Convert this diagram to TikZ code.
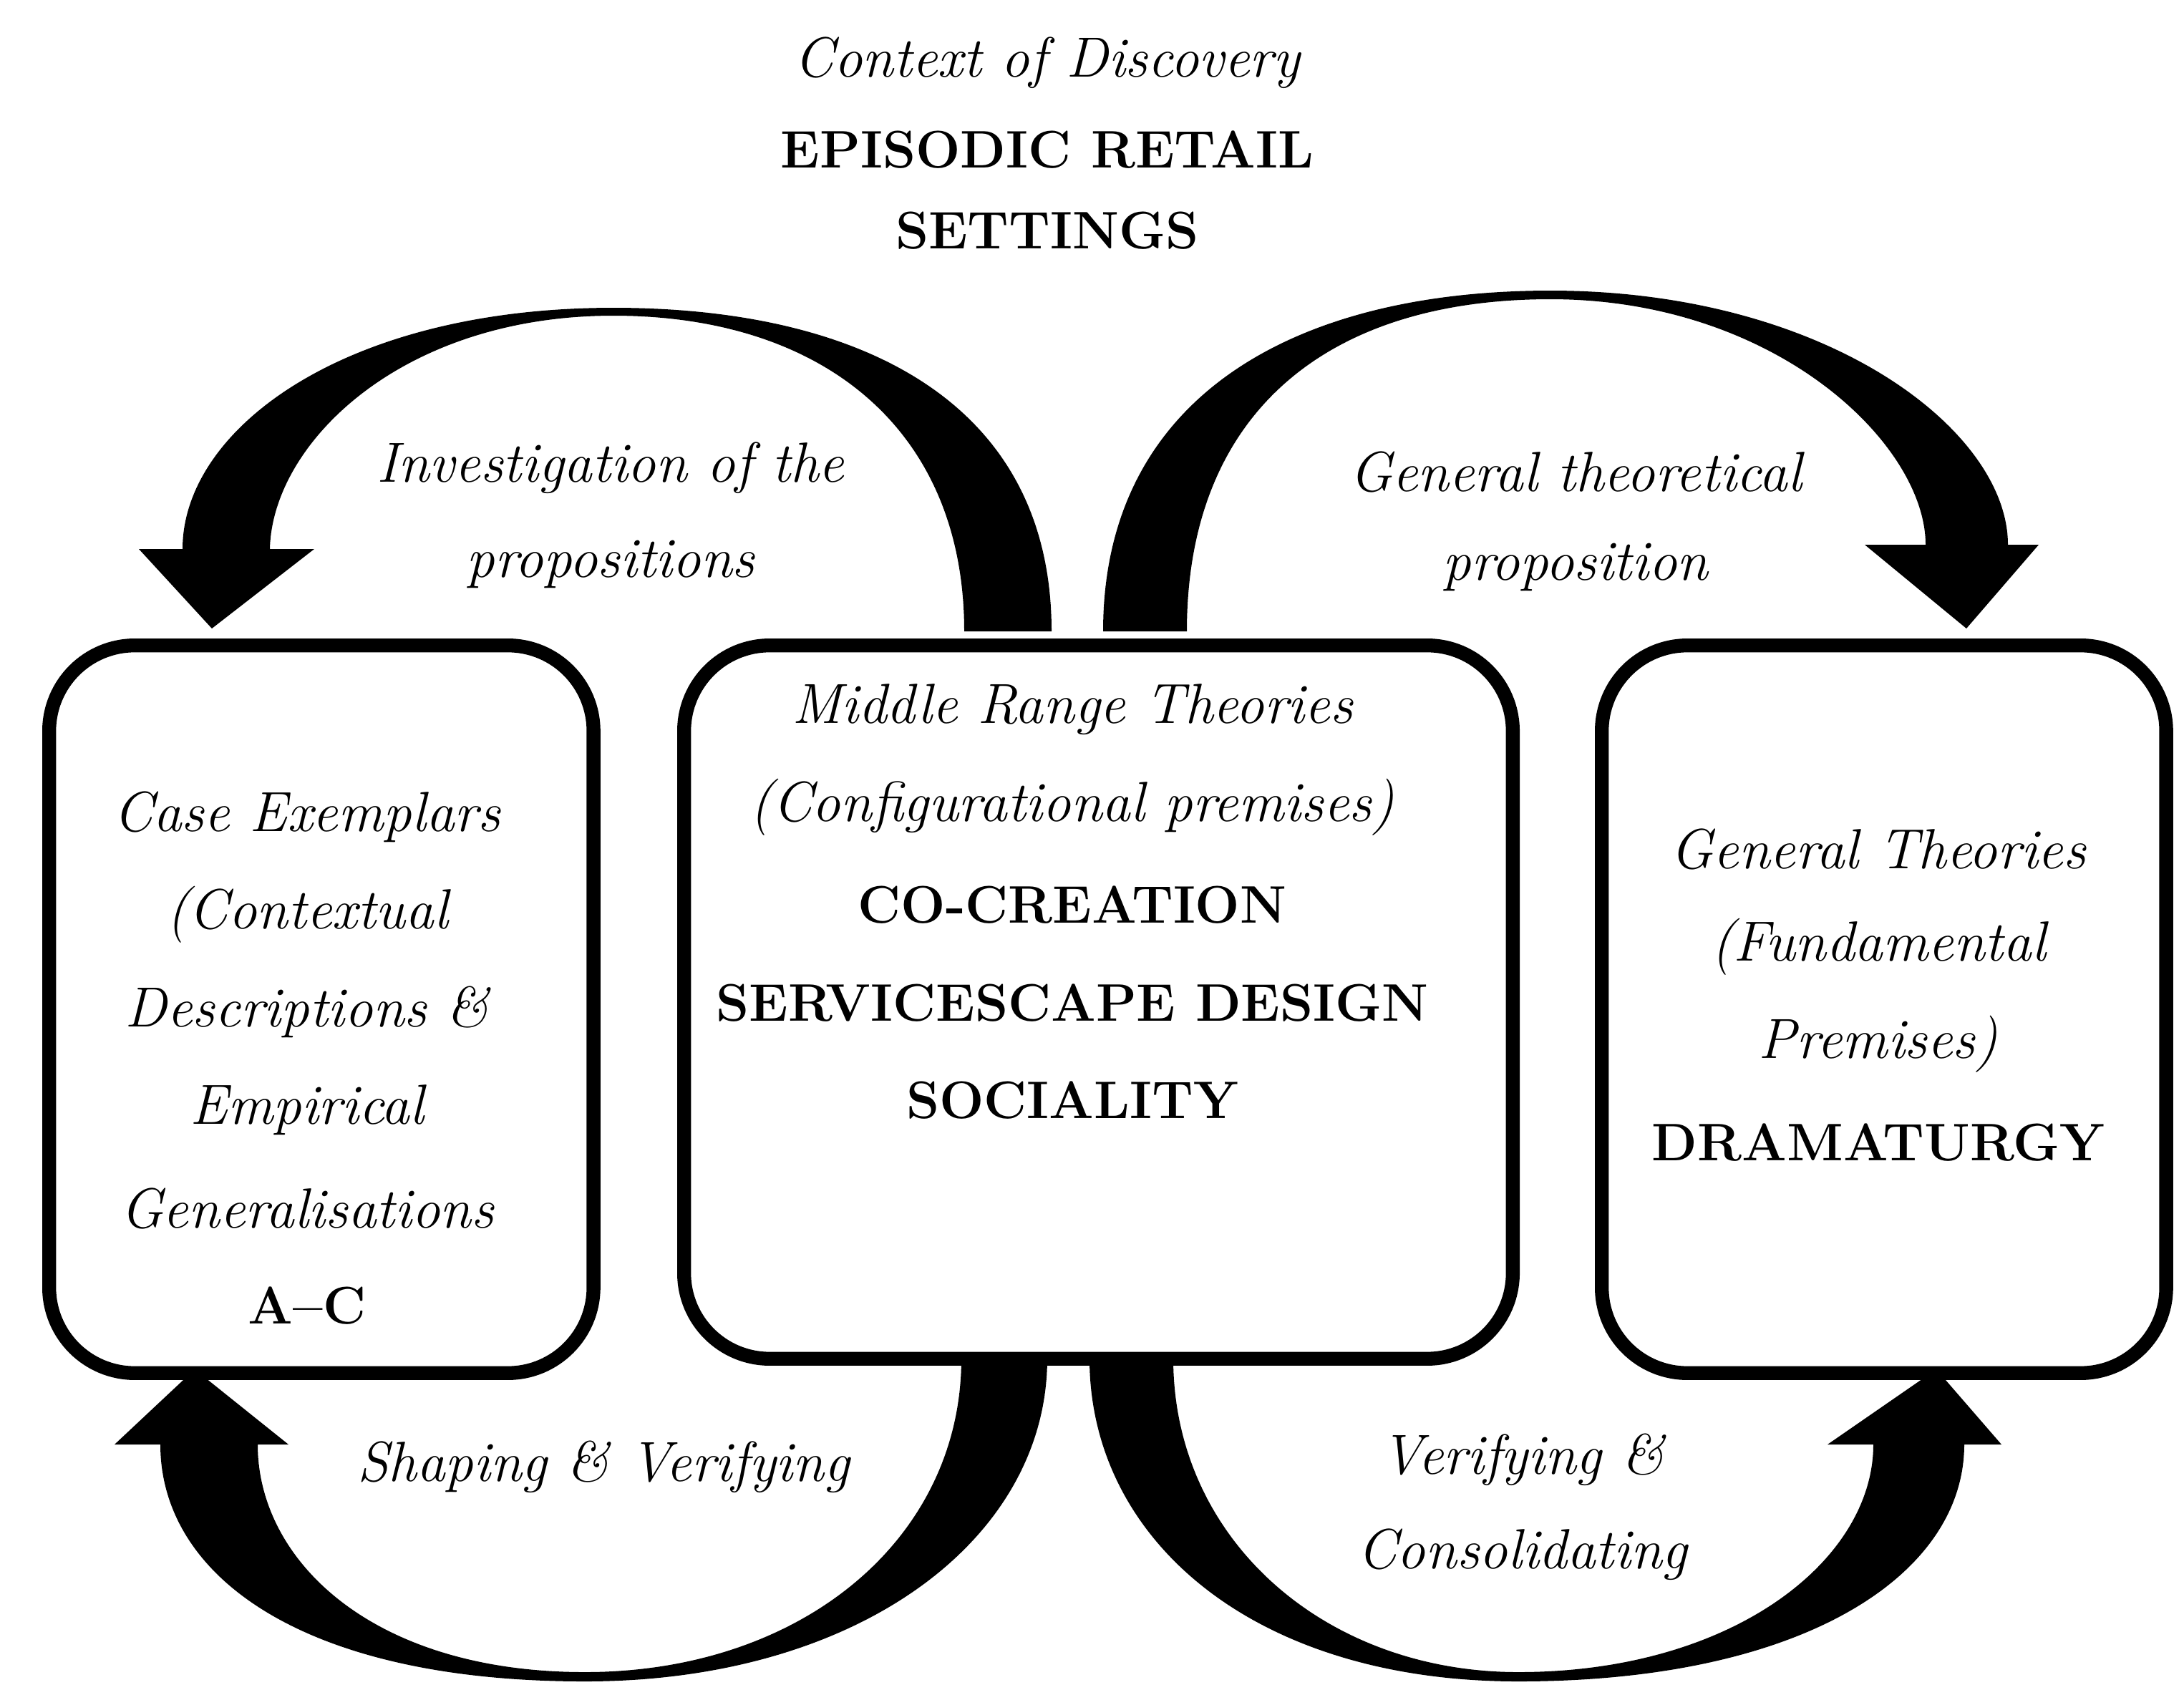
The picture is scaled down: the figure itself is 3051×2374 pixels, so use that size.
\documentclass[tikz,border=0pt]{standalone}
\usepackage{fontspec}
\begin{document}
\begin{tikzpicture}[x=0.01cm,y=-0.01cm,
  box/.style={draw,line width=5.5pt,rounded corners=34pt},
  it/.style={font=\fontsize{22.5}{40}\selectfont\itshape,align=center},
  bf/.style={font=\fontsize{21}{40}\selectfont\bfseries,align=center}]
\useasboundingbox (0,0) rectangle (3051,2374);
% boxes
\node[box,minimum width=7.6cm,minimum height=10.16cm,anchor=north west] (L) at (59,892) {};
\node[box,minimum width=11.57cm,minimum height=9.96cm,anchor=north west] (M) at (946,892) {};
\node[box,minimum width=7.88cm,minimum height=10.16cm,anchor=north west] (R) at (2228,892) {};
% arrows (filled crescents)
\fill (1469,882) .. controls (1469,560) and (1200,430) .. (857,430) .. controls (480,430) and (255,600) .. (255,767)
  -- (194,767) -- (296,878) -- (439,767) -- (377,767)
  .. controls (380,620) and (560,441) .. (857,441) .. controls (1150,441) and (1347,600) .. (1347,882) -- cycle;
\fill (1541,882) .. controls (1541,560) and (1800,406) .. (2166,406) .. controls (2550,406) and (2805,600) .. (2805,761)
  -- (2848,761) -- (2747,878) -- (2605,761) -- (2690,761)
  .. controls (2690,620) and (2480,418) .. (2166,418) .. controls (1850,418) and (1658,580) .. (1658,882) -- cycle;
\fill (1463,1898) .. controls (1463,2150) and (1200,2349) .. (817,2349) .. controls (420,2349) and (224,2200) .. (224,2018)
  -- (160,2018) -- (272,1913) -- (403,2018) -- (360,2018)
  .. controls (360,2180) and (520,2336) .. (817,2336) .. controls (1120,2336) and (1343,2150) .. (1343,1898) -- cycle;
\fill (1522,1898) .. controls (1522,2150) and (1750,2349) .. (2121,2349) .. controls (2520,2349) and (2744,2200) .. (2744,2018)
  -- (2796,2018) -- (2705,1913) -- (2553,2018) -- (2617,2018)
  .. controls (2617,2180) and (2420,2336) .. (2121,2336) .. controls (1850,2336) and (1639,2150) .. (1639,1898) -- cycle;
% title
\node[it] (t1) at (1463,88) {Context of Discovery};
\node[bf] (t2) at (1463,209) {EPISODIC RETAIL};
\node[bf] (t3) at (1463,322) {SETTINGS};
% left box
\node[it] at (429,1141) {Case Exemplars};
\node[it] at (429,1278) {(Contextual};
\node[it] at (429,1414) {Descriptions \&};
\node[it] at (429,1551) {Empirical};
\node[it] at (429,1688) {Generalisations};
\node[bf] at (429,1824) {A–C};
% middle box
\node[it] at (1498,991) {Middle Range Theories};
\node[it] at (1498,1128) {(Configurational premises)};
\node[bf] at (1498,1264) {CO-CREATION};
\node[bf] at (1498,1401) {SERVICESCAPE DESIGN};
\node[bf] at (1498,1537) {SOCIALITY};
% right box
\node[it] at (2624,1186) {General Theories};
\node[it] at (2624,1323) {(Fundamental};
\node[it] at (2624,1459) {Premises)};
\node[bf] at (2624,1596) {DRAMATURGY};
% arrow labels
\node[it] at (853,654) {Investigation of the};
\node[it] at (853,788) {propositions};
\node[it] at (2201,659) {General theoretical};
\node[it] at (2201,792) {proposition};
\node[it] at (843,2049) {Shaping \& Verifying};
\node[it] at (2127,2039) {Verifying \&};
\node[it] at (2127,2172) {Consolidating};
\end{tikzpicture}
\end{document}
